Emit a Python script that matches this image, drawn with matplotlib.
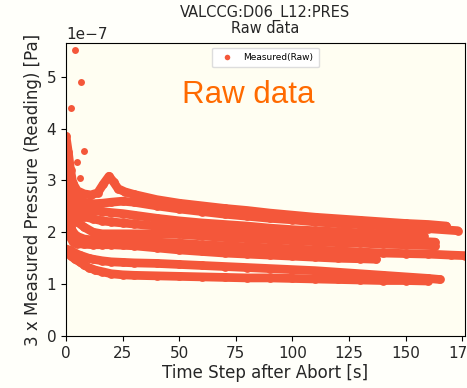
import matplotlib
matplotlib.use("Agg")
import matplotlib.pyplot as plt
from matplotlib.lines import Line2D
import numpy as np

# pressure readings after abort, in units of 1e-7 Pa, one list per gauge trace
t_m1 = [0, 1, 2, 3, 5, 8, 11, 14, 16.5, 19, 21, 23, 26, 30, 40, 50, 60, 70, 80, 90, 100, 110, 120, 130, 140, 150, 160, 168]
p_m1 = [3.85, 3.55, 3.2, 2.95, 2.8, 2.74, 2.72, 2.76, 2.93, 3.08, 2.97, 2.84, 2.78, 2.73, 2.63, 2.56, 2.51, 2.46, 2.42, 2.37, 2.33, 2.29, 2.26, 2.23, 2.20, 2.17, 2.15, 2.12]

t_m2 = [0, 1, 2, 3, 5, 8, 12, 16, 20, 25, 30, 40, 50, 60, 70, 80, 90, 100, 110, 120, 130, 140, 150, 160, 173]
p_m2 = [3.5, 3.2, 2.95, 2.78, 2.66, 2.58, 2.55, 2.56, 2.58, 2.60, 2.58, 2.51, 2.45, 2.40, 2.35, 2.31, 2.27, 2.24, 2.20, 2.17, 2.15, 2.12, 2.09, 2.07, 2.03]

t_m3 = [0, 1, 2, 3, 5, 8, 12, 16, 20, 25, 30, 40, 50, 60, 70, 80, 90, 100, 110, 120, 130, 140, 150, 158]
p_m3 = [3.2, 2.95, 2.75, 2.6, 2.5, 2.44, 2.42, 2.40, 2.38, 2.36, 2.33, 2.27, 2.22, 2.18, 2.15, 2.12, 2.08, 2.05, 2.03, 2.01, 1.99, 1.97, 1.95, 1.93]

t_m4 = [0, 1, 2, 3, 5, 8, 12, 16, 20, 25, 30, 40, 50, 60, 70, 80, 90, 100, 110, 120, 130, 140, 150, 163]
p_m4 = [3.0, 2.8, 2.6, 2.45, 2.35, 2.3, 2.26, 2.22, 2.2, 2.18, 2.16, 2.12, 2.08, 2.04, 2.01, 1.98, 1.96, 1.94, 1.92, 1.90, 1.88, 1.86, 1.84, 1.81]

t_m5 = [0, 1, 2, 3, 5, 8, 12, 16, 20, 25, 30, 40, 50, 60, 70, 80, 90, 100, 110, 120, 130, 140, 150, 163]
p_m5 = [2.8, 2.6, 2.42, 2.3, 2.2, 2.1, 2.0, 1.97, 1.97, 1.97, 1.97, 1.97, 1.96, 1.93, 1.90, 1.88, 1.86, 1.84, 1.82, 1.80, 1.79, 1.77, 1.76, 1.74]

t_m6 = [0, 1, 2, 3, 5, 8, 12, 16, 20, 25, 30, 40, 50, 60, 70, 80, 90, 100, 110, 120, 130, 140, 150, 160, 170, 176]
p_m6 = [2.6, 2.35, 2.15, 2.0, 1.92, 1.87, 1.85, 1.84, 1.84, 1.84, 1.83, 1.81, 1.79, 1.76, 1.74, 1.72, 1.70, 1.68, 1.66, 1.64, 1.62, 1.60, 1.59, 1.58, 1.56, 1.55]

t_m7 = [0, 1, 2, 3, 5, 8, 12, 16, 20, 25, 30, 40, 50, 60, 70, 80, 90, 100, 110, 120, 130, 137]
p_m7 = [2.3, 2.05, 1.9, 1.82, 1.78, 1.77, 1.76, 1.76, 1.76, 1.75, 1.74, 1.70, 1.66, 1.63, 1.60, 1.58, 1.56, 1.54, 1.52, 1.50, 1.49, 1.48]

t_f = [0, 2, 4, 6, 8, 10, 12, 16, 20, 25, 30, 40, 50, 60, 70, 80, 90, 100, 110, 120, 130, 140, 150, 160, 165]
p_f = [1.68, 1.65, 1.60, 1.56, 1.53, 1.50, 1.48, 1.45, 1.43, 1.42, 1.41, 1.40, 1.38, 1.36, 1.34, 1.32, 1.30, 1.28, 1.26, 1.23, 1.20, 1.17, 1.14, 1.11, 1.09]

t_g = [0, 2, 4, 6, 8, 10, 13, 16, 20, 25, 30, 40, 50, 60, 70, 80, 90, 100, 110, 120, 130, 140, 150, 160]
p_g = [1.62, 1.55, 1.48, 1.43, 1.37, 1.32, 1.27, 1.24, 1.20, 1.18, 1.17, 1.16, 1.15, 1.14, 1.13, 1.12, 1.12, 1.11, 1.10, 1.09, 1.08, 1.07, 1.07, 1.06]

# isolated spikes right after the abort
t_spike = [2.2, 4.1, 4.8, 6.2, 6.6, 8.1]
p_spike = [4.39, 5.51, 3.36, 3.04, 4.90, 3.56]

traces = [(t_m1, p_m1), (t_m2, p_m2), (t_m3, p_m3), (t_m4, p_m4), (t_m5, p_m5),
          (t_m6, p_m6), (t_m7, p_m7), (t_f, p_f), (t_g, p_g)]

RED = "#f4573a"
INK = "#262626"
SCALE = 1e-7
W = 6.3  # trace width in points

fig = plt.figure(figsize=(4.67, 3.88), dpi=100, facecolor="#fffffa")
ax = fig.add_axes([66 / 467, 52 / 388, 399 / 467, 293 / 388])
ax.set_facecolor("#fffef2")

for t, p in traces:
    ax.plot(t, np.array(p) * SCALE, color=RED, lw=W, marker="o", ms=W, mew=0,
            solid_capstyle="round", solid_joinstyle="round")
ax.plot(t_spike, np.array(p_spike) * SCALE, ls="", marker="o", ms=5, mew=0, color=RED)

ax.set_xlim(0, 176.2)
ax.set_ylim(0, 5.65 * SCALE)
ax.set_xticks([0, 25, 50, 75, 100, 125, 150, 175])
ax.tick_params(labelsize=11, labelcolor=INK)
ax.yaxis.get_offset_text().set_fontsize(11)
ax.yaxis.get_offset_text().set_color(INK)
ax.set_xlabel("Time Step after Abort [s]", fontsize=12, labelpad=2, color=INK)
ax.set_ylabel("3 x Measured Pressure (Reading) [Pa]", fontsize=12, labelpad=3, color=INK)
ax.set_title("VALCCG:D06_L12:PRES\nRaw data", fontsize=10.5, linespacing=1.05, pad=7,
             color=INK)

handle = Line2D([], [], ls="", marker="o", ms=4, mew=0, color=RED, label="Measured(Raw)")
leg = ax.legend(handles=[handle], loc="upper center", fontsize=6.5, handletextpad=0.8,
                borderpad=0.6, framealpha=1)
leg.get_frame().set_edgecolor("#dddddd")

fig.text(182 / 467, (388 - 103) / 388, "Raw data", color="#ff6a00", fontsize=22.5,
         family="Liberation Sans", va="baseline")

fig.savefig("out.png", dpi=100, facecolor=fig.get_facecolor())
